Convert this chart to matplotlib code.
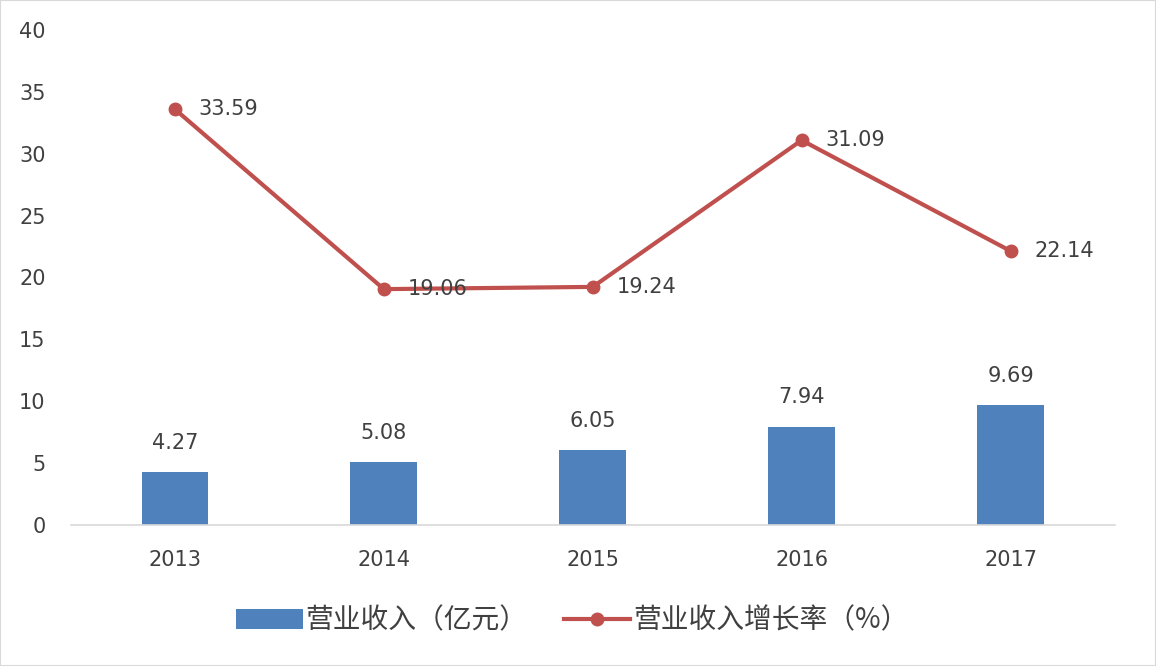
import matplotlib
matplotlib.use("Agg")
import matplotlib.pyplot as plt
from matplotlib.lines import Line2D
from matplotlib.patches import Patch

plt.rcParams['font.family'] = ['DejaVu Sans', 'Noto Sans CJK SC']

years = ["2013", "2014", "2015", "2016", "2017"]
revenue = [4.27, 5.08, 6.05, 7.94, 9.69]
growth = [33.59, 19.06, 19.24, 31.09, 22.14]
revenue_name = "营业收入（亿元）"
growth_name = "营业收入增长率（%）"

bar_color = "#4F81BD"
line_color = "#C0504D"
text_color = "#404040"

fig = plt.figure(figsize=(11.56, 6.66), dpi=100)
ax = fig.add_axes([0.061, 0.2117, 0.9035, 0.7433])

x = list(range(len(years)))
ax.bar(x, revenue, width=0.32, color=bar_color, zorder=2)
ax.plot(x, growth, color=line_color, linewidth=3.0, marker='o', markersize=9, zorder=3)

for xi, v in zip(x, revenue):
    ax.annotate(f"{v:.2f}", (xi, v), xytext=(0, 14), textcoords='offset points',
                ha='center', va='bottom', fontsize=15, color=text_color)
for xi, v in zip(x, growth):
    ax.annotate(f"{v:.2f}", (xi, v), xytext=(17, 0), textcoords='offset points',
                ha='left', va='center', fontsize=15, color=text_color)

ax.set_xlim(-0.5, len(years) - 0.5)
ax.set_ylim(0, 40)
ax.set_yticks(range(0, 41, 5))
ax.set_xticks(x)
ax.set_xticklabels(years)
ax.tick_params(axis='both', length=0, labelsize=15, labelcolor=text_color)
ax.tick_params(axis='x', pad=18)
ax.tick_params(axis='y', pad=18)
for s in ['top', 'right', 'left']:
    ax.spines[s].set_visible(False)
ax.spines['bottom'].set_color('#D9D9D9')
ax.spines['bottom'].set_linewidth(1.2)

handles = [Patch(facecolor=bar_color, edgecolor='none'),
           Line2D([0], [0], color=line_color, linewidth=3.0, marker='o', markersize=9)]
fig.legend(handles, [revenue_name, growth_name], loc='center', bbox_to_anchor=(0.495, 0.068),
           ncol=2, frameon=False, handlelength=2.4, handleheight=0.7, columnspacing=1.3,
           handletextpad=0.1, prop={'family': ['Noto Sans CJK SC', 'DejaVu Sans'], 'size': 20},
           labelcolor=text_color)

fig.patches.append(plt.Rectangle((0, 0), 1, 1, transform=fig.transFigure, fill=False,
                                 edgecolor='#D9D9D9', linewidth=1.5))

fig.savefig("out.png", dpi=100)
